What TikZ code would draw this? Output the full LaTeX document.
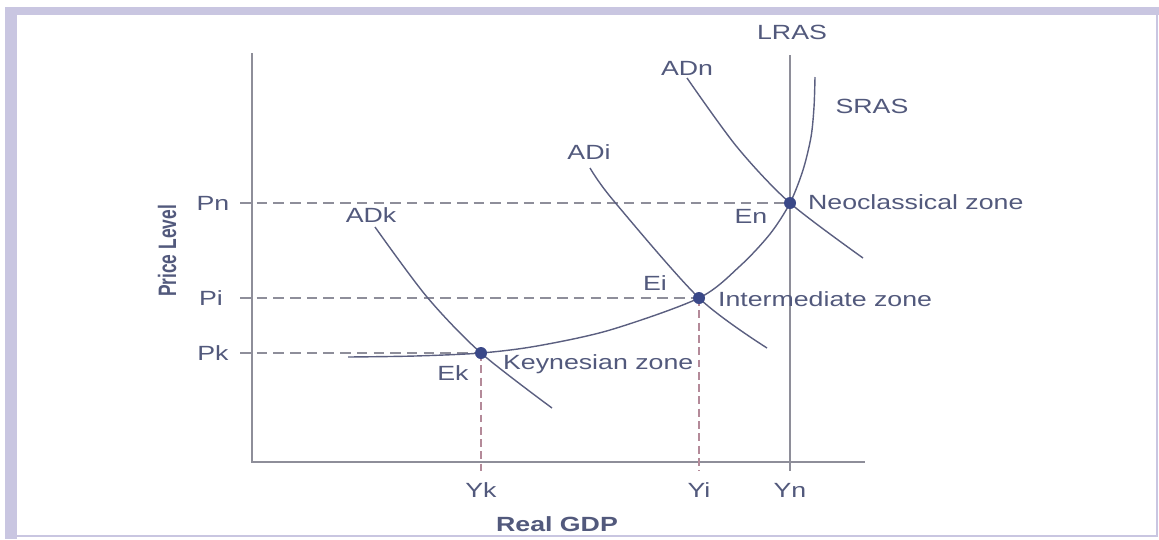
\documentclass[tikz,border=0pt]{standalone}
\usepackage{fontspec}
\setmainfont{Liberation Sans}[FakeStretch=1.3]
\newfontfamily\plainsans{Liberation Sans}
\usetikzlibrary{positioning}
\definecolor{labelcol}{HTML}{52597C}
\definecolor{curvecol}{HTML}{5B5F80}
\definecolor{axiscol}{HTML}{8E8E99}
\definecolor{guidecol}{HTML}{8E8E9A}
\definecolor{guidevcol}{HTML}{B48A99}
\definecolor{dotcol}{HTML}{3A4888}
\definecolor{framecol}{HTML}{C9C6E1}

\begin{document}
\begin{tikzpicture}[x=0.02cm, y=-0.02cm,
  lbl/.style={text=labelcol, inner sep=1pt, font=\fontsize{11.7}{14}\selectfont},
  axisline/.style={draw=axiscol, line width=1.1pt},
  curve/.style={draw=curvecol, line width=0.8pt},
  guideh/.style={draw=guidecol, line width=0.6pt, dash pattern=on 6pt off 3.5pt},
  guidev/.style={draw=guidevcol, line width=0.6pt, dash pattern=on 4.5pt off 2.5pt},
  eqdot/.style={circle, fill=dotcol, inner sep=0pt, minimum size=0.24cm},
]
\useasboundingbox (0,0) rectangle (1159,539);
% frame
\fill[framecol] (5,7) rectangle (1159,15);
\fill[framecol] (5,7) rectangle (17,539);
\draw[framecol, line width=0.6pt] (1157,15) -- (1157,536) -- (17,536);
% axes
\coordinate (origin) at (252,462);
\coordinate (ytop) at (252,53);
\coordinate (xend) at (865,462);
\draw[axisline] (ytop) -- (origin) -- (xend);
% equilibria
\coordinate (Ek) at (481,353);
\coordinate (Ei) at (699,298);
\coordinate (En) at (790,203);
% guide lines
\coordinate (pk) at (240,353);
\coordinate (pi) at (240,298);
\coordinate (pn) at (240,203);
\coordinate (yk) at (481,471);
\coordinate (yi) at (699,471);
\draw[guideh] (pk) -- (Ek);
\draw[guideh] (pi) -- (Ei);
\draw[guideh] (pn) -- (En);
\draw[guidev] (Ek) -- (yk);
\draw[guidev] (Ei) -- (yi);
% LRAS
\coordinate (ltop) at (790,55);
\coordinate (lbot) at (790,471);
\draw[axisline, line width=0.9pt] (ltop) -- (lbot);
% SRAS and AD curves
\draw[curve] plot[smooth] coordinates {(348,357) (415,356) (Ek) (537,346) (610,330) (Ei)
  (740,266) (770,234) (En) (803,170) (811,137) (814,107) (815,77)};
\draw[curve] plot[smooth] coordinates {(375,227) (427,297) (Ek) (552,408)};
\draw[curve] plot[smooth] coordinates {(590,168) (613,200) (Ei) (767,348)};
\draw[curve] plot[smooth] coordinates {(687,78) (737,147) (En) (863,258)};
\node[eqdot] (dotk) at (Ek) {};
\node[eqdot] (doti) at (Ei) {};
\node[eqdot] (dotn) at (En) {};
% labels
\node[lbl] (LRAS) at (792,32) {LRAS};
\node[lbl] (SRAS) at (872,106) {SRAS};
\node[lbl] (ADn) at (687,68) {ADn};
\node[lbl] (ADi) at (589,152) {ADi};
\node[lbl] (ADk) at (371,215) {ADk};
\node[lbl] (Pn) at (213,203) {Pn};
\node[lbl] (Pi) at (211,298) {Pi};
\node[lbl] (Pk) at (213,353) {Pk};
\node[lbl] (Enl) at (751,216) {En};
\node[lbl] (Eil) at (655,283) {Ei};
\node[lbl] (Ekl) at (453,373) {Ek};
\node[lbl, anchor=west] (neo) at (806,202) {Neoclassical zone};
\node[lbl, anchor=west] (mid) at (716,299) {Intermediate zone};
\node[lbl, anchor=west] (key) at (501,364) {Keynesian zone};
\node[lbl] (Yk) at (481,490) {Yk};
\node[lbl] (Yi) at (699,490) {Yi};
\node[lbl] (Yn) at (790,490) {Yn};
\node[lbl, font=\fontsize{11.7}{14}\selectfont\bfseries] (gdp) at (557,524) {Real GDP};
\node[lbl, font=\plainsans\fontsize{9.9}{12}\selectfont\bfseries, rotate=90] (price) at (167,251)
  {\scalebox{1}[1.45]{Price Level}};
\end{tikzpicture}
\end{document}
